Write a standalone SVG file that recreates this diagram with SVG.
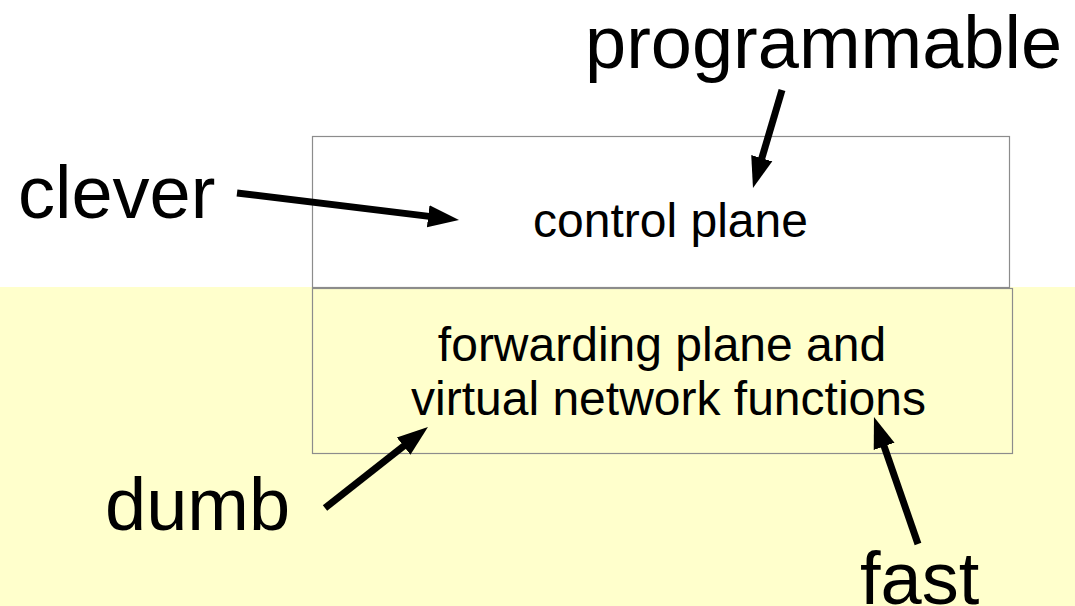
<svg xmlns="http://www.w3.org/2000/svg" width="1075" height="606" viewBox="0 0 1075 606">
<style>
.box{stroke:#8c8c8c;stroke-width:1.2}
.big{font-family:"Liberation Sans",Arial,sans-serif;font-size:74px;fill:#000}
.mid{font-family:"Liberation Sans",Arial,sans-serif;font-size:48px;fill:#000;text-anchor:middle}
.arr{stroke:#000;stroke-width:7;fill:none;marker-end:url(#head)}
</style>
<defs>
<marker id="head" markerUnits="userSpaceOnUse" markerWidth="31" markerHeight="24" viewBox="0 0 31 24" refX="1" refY="12" orient="auto">
<path d="M0,1 L31,12 L0,23 z" fill="#000"/>
</marker>
</defs>
<rect x="0" y="0" width="1075" height="606" fill="#ffffff"/>
<rect x="0" y="287" width="1075" height="319" fill="#ffffcc"/>
<g id="control-plane">
<rect class="box" x="312.5" y="136.5" width="697" height="151" fill="#ffffff"/>
<text class="mid" x="670.5" y="237">control plane</text>
</g>
<g id="forwarding-plane">
<rect class="box" x="312.5" y="288.5" width="700" height="165" fill="#ffffcc"/>
<text class="mid" x="662" y="361">forwarding plane and</text>
<text class="mid" x="668.5" y="415">virtual network functions</text>
</g>
<g id="label-programmable"><text class="big" x="585" y="68">programmable</text></g>
<g id="label-clever"><text class="big" x="18" y="218">clever</text></g>
<g id="label-dumb"><text class="big" x="105" y="530">dumb</text></g>
<g id="label-fast"><text class="big" x="860" y="604">fast</text></g>
<g id="connectors">
<line class="arr" x1="782" y1="90" x2="761.5" y2="159.2"/>
<line class="arr" x1="237" y1="193" x2="429.2" y2="216.4"/>
<line class="arr" x1="325" y1="508" x2="404.4" y2="445.5"/>
<line class="arr" x1="918" y1="544" x2="883.8" y2="445.4"/>
</g>
</svg>
